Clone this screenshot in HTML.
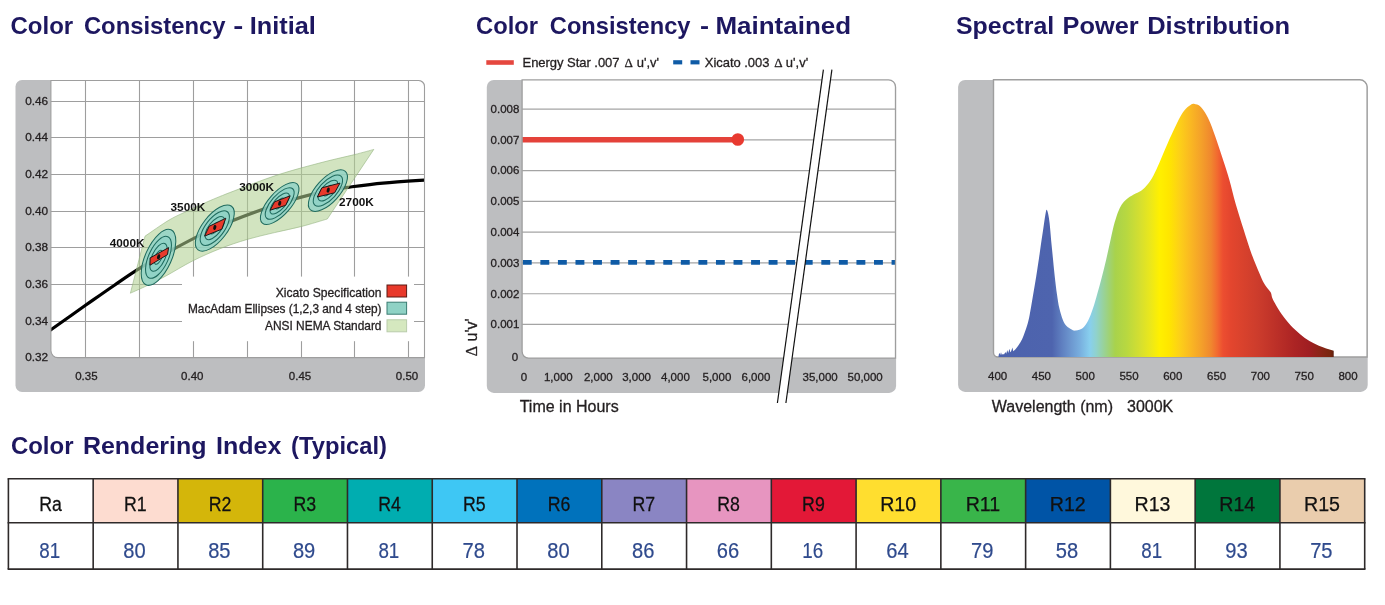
<!DOCTYPE html>
<html><head><meta charset="utf-8"><title>Color data</title>
<style>html,body{margin:0;padding:0;background:#fff;}body{width:1385px;height:605px;overflow:hidden;font-family:"Liberation Sans",sans-serif;}svg{display:block;}text{font-family:"Liberation Sans",sans-serif;}</style>
</head><body>
<svg width="1385" height="605" viewBox="0 0 1385 605" style="will-change:transform">
<rect width="1385" height="605" fill="#fff"/>
<text x="10.52" y="33.8" font-size="24" font-weight="bold" fill="#1d1760" textLength="62.7" lengthAdjust="spacingAndGlyphs">Color</text>
<text x="83.9" y="33.8" font-size="24" font-weight="bold" fill="#1d1760" textLength="141.71" lengthAdjust="spacingAndGlyphs">Consistency</text>
<text x="233.37" y="33.8" font-size="24" font-weight="bold" fill="#1d1760" textLength="10.06" lengthAdjust="spacingAndGlyphs">-</text>
<text x="249.81" y="33.8" font-size="24" font-weight="bold" fill="#1d1760" textLength="66.0" lengthAdjust="spacingAndGlyphs">Initial</text>
<text x="476.0" y="34" font-size="24" font-weight="bold" fill="#1d1760" textLength="62.0" lengthAdjust="spacingAndGlyphs">Color</text>
<text x="549.81" y="34" font-size="24" font-weight="bold" fill="#1d1760" textLength="140.71" lengthAdjust="spacingAndGlyphs">Consistency</text>
<text x="700.08" y="34" font-size="24" font-weight="bold" fill="#1d1760" textLength="9.05" lengthAdjust="spacingAndGlyphs">-</text>
<text x="715.4" y="34" font-size="24" font-weight="bold" fill="#1d1760" textLength="135.68" lengthAdjust="spacingAndGlyphs">Maintained</text>
<text x="956.01" y="34" font-size="24" font-weight="bold" fill="#1d1760" textLength="98.27" lengthAdjust="spacingAndGlyphs">Spectral</text>
<text x="1062.62" y="34" font-size="24" font-weight="bold" fill="#1d1760" textLength="76.09" lengthAdjust="spacingAndGlyphs">Power</text>
<text x="1147.19" y="34" font-size="24" font-weight="bold" fill="#1d1760" textLength="142.92" lengthAdjust="spacingAndGlyphs">Distribution</text>
<text x="10.91" y="454" font-size="24" font-weight="bold" fill="#1d1760" textLength="62.62" lengthAdjust="spacingAndGlyphs">Color</text>
<text x="82.91" y="454" font-size="24" font-weight="bold" fill="#1d1760" textLength="123.59" lengthAdjust="spacingAndGlyphs">Rendering</text>
<text x="215.93" y="454" font-size="24" font-weight="bold" fill="#1d1760" textLength="65.47" lengthAdjust="spacingAndGlyphs">Index</text>
<text x="291.11" y="454" font-size="24" font-weight="bold" fill="#1d1760" textLength="95.78" lengthAdjust="spacingAndGlyphs">(Typical)</text>
<rect x="15.5" y="80.0" width="409.50" height="311.90" rx="6.5" ry="6.5" fill="#bdbec0"/>
<path d="M50.9,80.5 L418.50,80.5 A6,6 0 0 1 424.5,86.50 L424.5,357.6 L57.9,357.6 A7,7 0 0 1 50.9,350.6 Z" fill="#fff"/>
<clipPath id="c1"><path d="M50.9,80.5 L418.50,80.5 A6,6 0 0 1 424.5,86.50 L424.5,357.6 L57.9,357.6 A7,7 0 0 1 50.9,350.6 Z"/></clipPath>
<g clip-path="url(#c1)">
<line x1="85.5" y1="80" x2="85.5" y2="358" stroke="#9e9e9e" stroke-width="1.1"/>
<line x1="139.5" y1="80" x2="139.5" y2="358" stroke="#9e9e9e" stroke-width="1.1"/>
<line x1="193.5" y1="80" x2="193.5" y2="358" stroke="#9e9e9e" stroke-width="1.1"/>
<line x1="247.5" y1="80" x2="247.5" y2="358" stroke="#9e9e9e" stroke-width="1.1"/>
<line x1="301.5" y1="80" x2="301.5" y2="358" stroke="#9e9e9e" stroke-width="1.1"/>
<line x1="354.5" y1="80" x2="354.5" y2="358" stroke="#9e9e9e" stroke-width="1.1"/>
<line x1="408.5" y1="80" x2="408.5" y2="358" stroke="#9e9e9e" stroke-width="1.1"/>
<line x1="50" y1="101.5" x2="426" y2="101.5" stroke="#9e9e9e" stroke-width="1.1"/>
<line x1="50" y1="137.5" x2="426" y2="137.5" stroke="#9e9e9e" stroke-width="1.1"/>
<line x1="50" y1="174.5" x2="426" y2="174.5" stroke="#9e9e9e" stroke-width="1.1"/>
<line x1="50" y1="211.5" x2="426" y2="211.5" stroke="#9e9e9e" stroke-width="1.1"/>
<line x1="50" y1="247.5" x2="426" y2="247.5" stroke="#9e9e9e" stroke-width="1.1"/>
<line x1="50" y1="284.5" x2="426" y2="284.5" stroke="#9e9e9e" stroke-width="1.1"/>
<line x1="50" y1="321.5" x2="426" y2="321.5" stroke="#9e9e9e" stroke-width="1.1"/>
<path d="M48.0,331.9C48.5,331.5 44.6,334.2 50.9,329.8C57.1,325.4 74.9,312.7 85.5,305.3C96.1,297.9 105.7,291.1 114.4,285.2C123.1,279.3 130.2,274.3 137.5,269.7C144.8,265.1 145.6,264.2 158.5,257.3C171.4,250.4 194.6,237.1 214.8,228.1C235.0,219.1 260.9,209.8 279.7,203.5C298.5,197.2 316.6,193.3 327.9,190.6C339.1,187.9 338.0,188.7 347.2,187.4C356.4,186.2 370.0,184.3 382.9,183.1C395.8,181.9 417.0,180.6 424.5,180.1C432.0,179.6 427.4,179.9 428.0,179.9" fill="none" stroke="#000" stroke-width="3.2"/>
<path d="M145.0,236.2C149.2,233.4 162.6,223.8 170.0,219.5C177.4,215.2 183.0,213.2 189.3,210.2C195.6,207.2 200.6,204.7 208.0,201.5C215.4,198.3 222.1,195.5 233.9,191.0C245.7,186.5 263.7,179.4 278.6,174.6C293.5,169.8 310.6,165.4 323.2,162.1C335.8,158.8 346.1,156.7 354.5,154.6C362.9,152.5 370.6,150.3 373.8,149.4L327.3,219.0C323.1,220.2 310.6,224.1 301.8,226.4C293.0,228.7 283.6,230.4 274.5,232.6C265.4,234.8 256.4,236.7 247.3,239.4C238.2,242.1 229.1,245.1 220.0,248.7C210.9,252.3 201.8,256.3 192.7,260.9C183.6,265.5 173.1,272.1 165.5,276.2C157.9,280.3 153.2,282.7 147.3,285.5C141.5,288.3 133.2,291.9 130.4,293.2Z" fill="#b0d090" fill-opacity="0.57" stroke="#8fb07c" stroke-opacity="0.7" stroke-width="0.8"/>
<ellipse cx="158.5" cy="257.3" rx="30.20" ry="13.10" transform="rotate(-65.5 158.5 257.3)" fill="#8fd2c5" fill-opacity="0.8" stroke="#1f6b5e" stroke-width="1.05"/>
<ellipse cx="158.5" cy="257.3" rx="22.65" ry="9.82" transform="rotate(-65.5 158.5 257.3)" fill="#8fd2c5" fill-opacity="0.8" stroke="#1f6b5e" stroke-width="1.05"/>
<ellipse cx="158.5" cy="257.3" rx="15.10" ry="6.55" transform="rotate(-65.5 158.5 257.3)" fill="#8fd2c5" fill-opacity="0.8" stroke="#1f6b5e" stroke-width="1.05"/>
<ellipse cx="158.5" cy="257.3" rx="7.55" ry="3.27" transform="rotate(-65.5 158.5 257.3)" fill="#8fd2c5" fill-opacity="0.8" stroke="#1f6b5e" stroke-width="1.05"/>
<polygon points="150.0,265.2 150.1,257.9 168.6,247.6 167.5,254.6" fill="#e8392b" stroke="#1a1a1a" stroke-width="1"/>
<ellipse cx="158.6" cy="256.8" rx="1.5" ry="2.6" transform="rotate(15 158.6 256.8)" fill="#111"/>
<ellipse cx="214.8" cy="228.1" rx="27.50" ry="12.50" transform="rotate(-52.5 214.8 228.1)" fill="#8fd2c5" fill-opacity="0.8" stroke="#1f6b5e" stroke-width="1.05"/>
<ellipse cx="214.8" cy="228.1" rx="20.62" ry="9.38" transform="rotate(-52.5 214.8 228.1)" fill="#8fd2c5" fill-opacity="0.8" stroke="#1f6b5e" stroke-width="1.05"/>
<ellipse cx="214.8" cy="228.1" rx="13.75" ry="6.25" transform="rotate(-52.5 214.8 228.1)" fill="#8fd2c5" fill-opacity="0.8" stroke="#1f6b5e" stroke-width="1.05"/>
<ellipse cx="214.8" cy="228.1" rx="6.88" ry="3.12" transform="rotate(-52.5 214.8 228.1)" fill="#8fd2c5" fill-opacity="0.8" stroke="#1f6b5e" stroke-width="1.05"/>
<polygon points="204.6,236.1 209.2,226.3 225.8,218.2 221.8,229.2" fill="#e8392b" stroke="#1a1a1a" stroke-width="1"/>
<ellipse cx="214.8" cy="227.4" rx="1.5" ry="2.6" transform="rotate(15 214.8 227.4)" fill="#111"/>
<ellipse cx="279.7" cy="203.5" rx="26.20" ry="11.20" transform="rotate(-48.6 279.7 203.5)" fill="#8fd2c5" fill-opacity="0.8" stroke="#1f6b5e" stroke-width="1.05"/>
<ellipse cx="279.7" cy="203.5" rx="19.65" ry="8.40" transform="rotate(-48.6 279.7 203.5)" fill="#8fd2c5" fill-opacity="0.8" stroke="#1f6b5e" stroke-width="1.05"/>
<ellipse cx="279.7" cy="203.5" rx="13.10" ry="5.60" transform="rotate(-48.6 279.7 203.5)" fill="#8fd2c5" fill-opacity="0.8" stroke="#1f6b5e" stroke-width="1.05"/>
<ellipse cx="279.7" cy="203.5" rx="6.55" ry="2.80" transform="rotate(-48.6 279.7 203.5)" fill="#8fd2c5" fill-opacity="0.8" stroke="#1f6b5e" stroke-width="1.05"/>
<polygon points="270.1,210.2 274.6,201.8 290.2,195.8 285.6,205.4" fill="#e8392b" stroke="#1a1a1a" stroke-width="1"/>
<ellipse cx="279.7" cy="203.3" rx="1.5" ry="2.6" transform="rotate(15 279.7 203.3)" fill="#111"/>
<ellipse cx="327.9" cy="190.6" rx="26.00" ry="11.80" transform="rotate(-47.8 327.9 190.6)" fill="#8fd2c5" fill-opacity="0.8" stroke="#1f6b5e" stroke-width="1.05"/>
<ellipse cx="327.9" cy="190.6" rx="19.50" ry="8.85" transform="rotate(-47.8 327.9 190.6)" fill="#8fd2c5" fill-opacity="0.8" stroke="#1f6b5e" stroke-width="1.05"/>
<ellipse cx="327.9" cy="190.6" rx="13.00" ry="5.90" transform="rotate(-47.8 327.9 190.6)" fill="#8fd2c5" fill-opacity="0.8" stroke="#1f6b5e" stroke-width="1.05"/>
<ellipse cx="327.9" cy="190.6" rx="6.50" ry="2.95" transform="rotate(-47.8 327.9 190.6)" fill="#8fd2c5" fill-opacity="0.8" stroke="#1f6b5e" stroke-width="1.05"/>
<polygon points="317.3,197.0 321.9,187.8 340.0,183.1 334.6,192.8" fill="#e8392b" stroke="#1a1a1a" stroke-width="1"/>
<ellipse cx="328.2" cy="190.1" rx="1.5" ry="2.6" transform="rotate(15 328.2 190.1)" fill="#111"/>
<rect x="182" y="276.6" width="232" height="64.6" fill="#fff"/>
</g>
<path d="M50.9,80.5 L418.50,80.5 A6,6 0 0 1 424.5,86.50 L424.5,357.6 L57.9,357.6 A7,7 0 0 1 50.9,350.6 Z" fill="none" stroke="#9e9e9e" stroke-width="1.1"/>
<text x="109.7" y="247.1" font-size="11.3" font-weight="bold" fill="#111" textLength="34.8" lengthAdjust="spacingAndGlyphs">4000K</text>
<text x="170.5" y="210.9" font-size="11.3" font-weight="bold" fill="#111" textLength="34.8" lengthAdjust="spacingAndGlyphs">3500K</text>
<text x="239.3" y="190.8" font-size="11.3" font-weight="bold" fill="#111" textLength="34.8" lengthAdjust="spacingAndGlyphs">3000K</text>
<text x="339" y="205.6" font-size="11.3" font-weight="bold" fill="#111" textLength="34.8" lengthAdjust="spacingAndGlyphs">2700K</text>
<text x="275.7" y="296.7" font-size="11.9" textLength="105.8" lengthAdjust="spacingAndGlyphs" fill="#231f20" stroke="#231f20" stroke-width="0.3">Xicato Specification</text>
<text x="188.0" y="312.8" font-size="11.9" textLength="193.5" lengthAdjust="spacingAndGlyphs" fill="#231f20" stroke="#231f20" stroke-width="0.3">MacAdam Ellipses (1,2,3 and 4 step)</text>
<text x="265.0" y="329.8" font-size="11.9" textLength="116.5" lengthAdjust="spacingAndGlyphs" fill="#231f20" stroke="#231f20" stroke-width="0.3">ANSI NEMA Standard</text>
<rect x="387" y="285" width="19.6" height="12" fill="#e8392b" stroke="#5a1a14" stroke-width="1"/>
<rect x="387" y="302.2" width="19.6" height="12" fill="#8fd2c5" stroke="#3a7d73" stroke-width="1"/>
<rect x="387" y="319.8" width="19.6" height="12" fill="#d5e8bf" stroke="#b9ccab" stroke-width="1"/>
<text x="48.1" y="104.6" font-size="11.8" text-anchor="end" fill="#231f20" stroke="#231f20" stroke-width="0.3">0.46</text>
<text x="48.1" y="140.6" font-size="11.8" text-anchor="end" fill="#231f20" stroke="#231f20" stroke-width="0.3">0.44</text>
<text x="48.1" y="177.6" font-size="11.8" text-anchor="end" fill="#231f20" stroke="#231f20" stroke-width="0.3">0.42</text>
<text x="48.1" y="214.6" font-size="11.8" text-anchor="end" fill="#231f20" stroke="#231f20" stroke-width="0.3">0.40</text>
<text x="48.1" y="250.6" font-size="11.8" text-anchor="end" fill="#231f20" stroke="#231f20" stroke-width="0.3">0.38</text>
<text x="48.1" y="287.6" font-size="11.8" text-anchor="end" fill="#231f20" stroke="#231f20" stroke-width="0.3">0.36</text>
<text x="48.1" y="324.6" font-size="11.8" text-anchor="end" fill="#231f20" stroke="#231f20" stroke-width="0.3">0.34</text>
<text x="48.1" y="360.9" font-size="11.8" text-anchor="end" fill="#231f20" stroke="#231f20" stroke-width="0.3">0.32</text>
<text x="86.4" y="380" font-size="11.5" text-anchor="middle" fill="#231f20" stroke="#231f20" stroke-width="0.3">0.35</text>
<text x="192.3" y="380" font-size="11.5" text-anchor="middle" fill="#231f20" stroke="#231f20" stroke-width="0.3">0.40</text>
<text x="300" y="380" font-size="11.5" text-anchor="middle" fill="#231f20" stroke="#231f20" stroke-width="0.3">0.45</text>
<text x="407" y="380" font-size="11.5" text-anchor="middle" fill="#231f20" stroke="#231f20" stroke-width="0.3">0.50</text>
<rect x="486.8" y="79.9" width="409.30" height="313.00" rx="7" ry="7" fill="#bdbec0"/>
<path d="M522.1,79.8 L888.50,79.8 A7,7 0 0 1 895.5,86.80 L895.5,358.1 L528.6,358.1 A6.5,6.5 0 0 1 522.1,351.6 Z" fill="#fff"/>
<clipPath id="c2"><path d="M522.1,79.8 L888.50,79.8 A7,7 0 0 1 895.5,86.80 L895.5,358.1 L528.6,358.1 A6.5,6.5 0 0 1 522.1,351.6 Z"/></clipPath>
<g clip-path="url(#c2)">
<line x1="522" y1="324.4" x2="897" y2="324.4" stroke="#a4a4a4" stroke-width="1.1"/>
<line x1="522" y1="293.7" x2="897" y2="293.7" stroke="#a4a4a4" stroke-width="1.1"/>
<line x1="522" y1="262.9" x2="897" y2="262.9" stroke="#a4a4a4" stroke-width="1.1"/>
<line x1="522" y1="232.1" x2="897" y2="232.1" stroke="#a4a4a4" stroke-width="1.1"/>
<line x1="522" y1="201.4" x2="897" y2="201.4" stroke="#a4a4a4" stroke-width="1.1"/>
<line x1="522" y1="170.6" x2="897" y2="170.6" stroke="#a4a4a4" stroke-width="1.1"/>
<line x1="522" y1="139.9" x2="897" y2="139.9" stroke="#a4a4a4" stroke-width="1.1"/>
<line x1="522" y1="109.1" x2="897" y2="109.1" stroke="#a4a4a4" stroke-width="1.1"/>
<line x1="522.8" y1="262.4" x2="897" y2="262.4" stroke="#0f5ba6" stroke-width="4.7" stroke-dasharray="8.9 8.66"/>
<line x1="522" y1="139.8" x2="737.7" y2="139.8" stroke="#e4423a" stroke-width="5.4"/>
<circle cx="737.8" cy="139.5" r="6.3" fill="#e83a30"/>
</g>
<path d="M522.1,79.8 L888.50,79.8 A7,7 0 0 1 895.5,86.80 L895.5,358.1 L528.6,358.1 A6.5,6.5 0 0 1 522.1,351.6 Z" fill="none" stroke="#9e9e9e" stroke-width="1.3"/>
<polygon points="823.4,69.6 831.9,69.6 785.9,403 777.4,403" fill="#fff"/>
<line x1="823.4" y1="69.6" x2="777.4" y2="403" stroke="#111" stroke-width="1.2"/>
<line x1="831.9" y1="69.6" x2="785.9" y2="403" stroke="#111" stroke-width="1.2"/>
<line x1="486.3" y1="62.5" x2="513.8" y2="62.5" stroke="#e5473f" stroke-width="4.6"/>
<rect x="673.2" y="60.2" width="9" height="4.2" fill="#0f5ba6"/><rect x="690.5" y="60.2" width="9" height="4.2" fill="#0f5ba6"/>
<text x="522.5" y="67.2" font-size="13" fill="#231f20" stroke="#231f20" stroke-width="0.3" textLength="97" lengthAdjust="spacing">Energy Star .007</text>
<text x="624.6" y="67.2" font-size="13" font-family="Liberation Serif, serif" style="font-family:'Liberation Serif',serif" fill="#231f20" stroke="#231f20" stroke-width="0.3">Δ</text>
<text x="636.7" y="67.2" font-size="13" fill="#231f20" stroke="#231f20" stroke-width="0.3" textLength="22.4" lengthAdjust="spacing">u',v'</text>
<text x="704.8" y="67.2" font-size="13" fill="#231f20" stroke="#231f20" stroke-width="0.3" textLength="64.6" lengthAdjust="spacing">Xicato .003</text>
<text x="774.2" y="67.2" font-size="13" style="font-family:'Liberation Serif',serif" fill="#231f20" stroke="#231f20" stroke-width="0.3">Δ</text>
<text x="785.8" y="67.2" font-size="13" fill="#231f20" stroke="#231f20" stroke-width="0.3" textLength="22.4" lengthAdjust="spacing">u',v'</text>
<text x="518.2" y="361.1" font-size="11.5" text-anchor="end" fill="#231f20" stroke="#231f20" stroke-width="0.3">0</text>
<text x="519.4" y="328.2" font-size="11.5" text-anchor="end" fill="#231f20" stroke="#231f20" stroke-width="0.3">0.001</text>
<text x="519.4" y="297.5" font-size="11.5" text-anchor="end" fill="#231f20" stroke="#231f20" stroke-width="0.3">0.002</text>
<text x="519.4" y="266.7" font-size="11.5" text-anchor="end" fill="#231f20" stroke="#231f20" stroke-width="0.3">0.003</text>
<text x="519.4" y="235.9" font-size="11.5" text-anchor="end" fill="#231f20" stroke="#231f20" stroke-width="0.3">0.004</text>
<text x="519.4" y="205.2" font-size="11.5" text-anchor="end" fill="#231f20" stroke="#231f20" stroke-width="0.3">0.005</text>
<text x="519.4" y="174.4" font-size="11.5" text-anchor="end" fill="#231f20" stroke="#231f20" stroke-width="0.3">0.006</text>
<text x="519.4" y="143.7" font-size="11.5" text-anchor="end" fill="#231f20" stroke="#231f20" stroke-width="0.3">0.007</text>
<text x="519.4" y="112.9" font-size="11.5" text-anchor="end" fill="#231f20" stroke="#231f20" stroke-width="0.3">0.008</text>
<text x="523.9" y="380.7" font-size="11.5" text-anchor="middle" fill="#231f20" stroke="#231f20" stroke-width="0.3">0</text>
<text x="558.3" y="380.7" font-size="11.5" text-anchor="middle" fill="#231f20" stroke="#231f20" stroke-width="0.3">1,000</text>
<text x="598.3" y="380.7" font-size="11.5" text-anchor="middle" fill="#231f20" stroke="#231f20" stroke-width="0.3">2,000</text>
<text x="636.6" y="380.7" font-size="11.5" text-anchor="middle" fill="#231f20" stroke="#231f20" stroke-width="0.3">3,000</text>
<text x="675.4" y="380.7" font-size="11.5" text-anchor="middle" fill="#231f20" stroke="#231f20" stroke-width="0.3">4,000</text>
<text x="716.9" y="380.7" font-size="11.5" text-anchor="middle" fill="#231f20" stroke="#231f20" stroke-width="0.3">5,000</text>
<text x="755.9" y="380.7" font-size="11.5" text-anchor="middle" fill="#231f20" stroke="#231f20" stroke-width="0.3">6,000</text>
<text x="820.1" y="380.7" font-size="11.5" text-anchor="middle" fill="#231f20" stroke="#231f20" stroke-width="0.3">35,000</text>
<text x="865.2" y="380.7" font-size="11.5" text-anchor="middle" fill="#231f20" stroke="#231f20" stroke-width="0.3">50,000</text>
<text x="519.7" y="412" font-size="16" fill="#231f20" stroke="#231f20" stroke-width="0.3">Time in Hours</text>
<text transform="translate(476.7 356.2) rotate(-90)" font-size="16" fill="#231f20" stroke="#231f20" stroke-width="0.3"><tspan style="font-family:'Liberation Serif',serif">Δ</tspan> u'v'</text>
<rect x="958.1" y="79.9" width="409.60" height="312.00" rx="7" ry="7" fill="#bdbec0"/>
<path d="M993.5,79.8 L1359.80,79.8 A7.3,7.3 0 0 1 1367.1,87.10 L1367.1,357.0 L998.0,357.0 A4.5,4.5 0 0 1 993.5,352.5 Z" fill="#fff"/>
<defs><linearGradient id="sp" gradientUnits="userSpaceOnUse" x1="998" y1="0" x2="1334" y2="0">
<stop offset="0.0000" stop-color="#4c62ad"/>
<stop offset="0.1607" stop-color="#4e64ae"/>
<stop offset="0.1896" stop-color="#5f7fc0"/>
<stop offset="0.2110" stop-color="#6a92cc"/>
<stop offset="0.2432" stop-color="#78aede"/>
<stop offset="0.2732" stop-color="#88cfee"/>
<stop offset="0.2926" stop-color="#90d2cc"/>
<stop offset="0.3185" stop-color="#9ad290"/>
<stop offset="0.3485" stop-color="#a8d24c"/>
<stop offset="0.3827" stop-color="#b8d840"/>
<stop offset="0.4226" stop-color="#d5df30"/>
<stop offset="0.4548" stop-color="#ece81a"/>
<stop offset="0.4807" stop-color="#fff000"/>
<stop offset="0.5086" stop-color="#ffe600"/>
<stop offset="0.5408" stop-color="#fdd018"/>
<stop offset="0.5729" stop-color="#fab822"/>
<stop offset="0.6054" stop-color="#f4a02a"/>
<stop offset="0.6333" stop-color="#f0882e"/>
<stop offset="0.6527" stop-color="#f26a30"/>
<stop offset="0.6696" stop-color="#ec4e30"/>
<stop offset="0.6914" stop-color="#e4462e"/>
<stop offset="0.7202" stop-color="#db432d"/>
<stop offset="0.7738" stop-color="#cc3c2c"/>
<stop offset="0.8277" stop-color="#bc3028"/>
<stop offset="0.8815" stop-color="#ac2424"/>
<stop offset="0.9244" stop-color="#a01e22"/>
<stop offset="0.9565" stop-color="#8c2418"/>
<stop offset="0.9890" stop-color="#78260e"/>
<stop offset="0.9958" stop-color="#6a220e"/>
<stop offset="1.0000" stop-color="#4a1a10"/>
</linearGradient></defs>
<path d="M993.5,79.8 L1359.80,79.8 A7.3,7.3 0 0 1 1367.1,87.10 L1367.1,357.0 L998.0,357.0 A4.5,4.5 0 0 1 993.5,352.5 Z" fill="none" stroke="#9e9e9e" stroke-width="1.4"/>
<clipPath id="c3"><path d="M993.5,79.8 L1359.80,79.8 A7.3,7.3 0 0 1 1367.1,87.10 L1367.1,357.0 L998.0,357.0 A4.5,4.5 0 0 1 993.5,352.5 Z"/></clipPath>
<g clip-path="url(#c3)"><path d="M998.4,357.4 L998.4,357 L998.8,354.5 L999.5,352.7 L1000.2,355 L1001,352.2 L1001.8,354.8 L1003,354 L1004,354.5 L1005.4,352 L1006.2,353.8 L1007.3,349.9 L1008.2,353 L1009.5,348.8 L1010.3,352.3 L1011,351.5 L1012.5,347.6 L1013.2,351.2 L1014.7,350.1 L1014.7,350.1C1015.3,349.3 1017.2,347.2 1018.5,345.3C1019.8,343.4 1021.2,341.2 1022.2,339.0C1023.2,336.8 1023.9,334.6 1024.8,332.2C1025.7,329.8 1026.6,327.2 1027.4,324.5C1028.2,321.8 1028.6,320.2 1029.5,315.7C1030.4,311.1 1031.6,303.8 1032.7,297.2C1033.8,290.6 1035.0,283.7 1036.2,276.4C1037.4,269.1 1038.6,260.9 1039.7,253.2C1040.8,245.5 1042.1,236.5 1043.1,230.1C1044.0,223.7 1044.8,217.9 1045.4,214.5C1046.0,211.1 1046.2,209.9 1046.6,209.7C1047.0,209.5 1047.5,211.0 1048.0,213.2C1048.5,215.4 1049.1,218.5 1049.6,223.1C1050.1,227.7 1050.7,235.2 1051.2,241.0C1051.8,246.8 1052.3,252.1 1052.9,257.9C1053.5,263.7 1054.0,269.9 1054.7,276.0C1055.4,282.1 1056.2,289.1 1057.0,294.4C1057.8,299.7 1058.3,303.8 1059.3,308.0C1060.3,312.2 1061.6,316.8 1062.8,319.8C1064.0,322.8 1064.8,324.1 1066.3,325.8C1067.8,327.5 1070.5,329.0 1072.1,329.8C1073.7,330.6 1074.2,330.9 1076.0,330.6C1077.8,330.3 1080.9,329.7 1082.9,328.0C1084.9,326.3 1086.5,323.7 1088.2,320.5C1089.9,317.3 1091.4,313.1 1092.9,308.6C1094.4,304.1 1095.8,298.9 1097.3,293.7C1098.8,288.5 1100.3,283.0 1101.8,277.3C1103.3,271.6 1104.8,265.5 1106.2,259.4C1107.6,253.3 1109.0,246.6 1110.4,240.5C1111.8,234.4 1113.2,227.6 1114.6,222.6C1116.0,217.6 1117.3,213.6 1118.7,210.4C1120.1,207.2 1121.1,205.3 1122.7,203.2C1124.3,201.1 1125.9,199.6 1128.1,198.0C1130.2,196.4 1133.1,195.1 1135.6,193.6C1138.1,192.1 1140.5,191.4 1143.0,189.2C1145.5,187.0 1148.3,183.8 1150.5,180.5C1152.7,177.2 1154.6,173.2 1156.4,169.5C1158.2,165.8 1159.2,163.0 1161.4,158.0C1163.6,153.0 1166.7,145.5 1169.3,139.6C1171.9,133.7 1174.9,127.2 1177.3,122.4C1179.7,117.6 1181.7,113.9 1183.9,111.0C1186.1,108.1 1188.7,106.3 1190.5,105.1C1192.3,103.9 1193.0,103.8 1194.5,103.9C1196.0,104.0 1198.0,104.5 1199.8,105.9C1201.5,107.3 1203.2,109.6 1205.0,112.5C1206.8,115.4 1208.3,118.2 1210.3,123.1C1212.3,127.9 1214.8,135.2 1217.0,141.6C1219.2,148.0 1221.5,155.2 1223.6,161.6C1225.7,168.0 1227.4,172.9 1229.4,180.0C1231.4,187.1 1233.3,195.7 1235.7,204.0C1238.1,212.3 1241.0,221.4 1243.6,229.6C1246.2,237.8 1248.8,246.2 1251.4,253.4C1254.0,260.6 1257.2,268.0 1259.3,273.0C1261.4,278.0 1262.4,280.4 1264.0,283.2C1265.6,286.0 1267.5,288.2 1268.7,289.8C1269.9,291.4 1270.3,291.5 1271.0,293.0C1271.7,294.5 1271.4,296.2 1272.6,298.8C1273.8,301.4 1275.9,305.2 1278.1,308.7C1280.3,312.2 1283.0,316.1 1285.9,319.7C1288.8,323.3 1292.2,327.1 1295.4,330.1C1298.6,333.2 1301.7,335.8 1304.8,338.0C1307.9,340.2 1311.1,342.0 1314.2,343.6C1317.3,345.2 1320.5,346.4 1323.6,347.6C1326.7,348.8 1331.3,350.1 1333.0,350.6C1334.7,351.1 1333.6,350.8 1333.7,350.8 L1333.7,357.4 Z" fill="url(#sp)"/></g>
<text x="997.6" y="380.4" font-size="11.5" text-anchor="middle" fill="#231f20" stroke="#231f20" stroke-width="0.3">400</text>
<text x="1041.4" y="380.4" font-size="11.5" text-anchor="middle" fill="#231f20" stroke="#231f20" stroke-width="0.3">450</text>
<text x="1085.2" y="380.4" font-size="11.5" text-anchor="middle" fill="#231f20" stroke="#231f20" stroke-width="0.3">500</text>
<text x="1129.0" y="380.4" font-size="11.5" text-anchor="middle" fill="#231f20" stroke="#231f20" stroke-width="0.3">550</text>
<text x="1172.8" y="380.4" font-size="11.5" text-anchor="middle" fill="#231f20" stroke="#231f20" stroke-width="0.3">600</text>
<text x="1216.6" y="380.4" font-size="11.5" text-anchor="middle" fill="#231f20" stroke="#231f20" stroke-width="0.3">650</text>
<text x="1260.4" y="380.4" font-size="11.5" text-anchor="middle" fill="#231f20" stroke="#231f20" stroke-width="0.3">700</text>
<text x="1304.2" y="380.4" font-size="11.5" text-anchor="middle" fill="#231f20" stroke="#231f20" stroke-width="0.3">750</text>
<text x="1348.0" y="380.4" font-size="11.5" text-anchor="middle" fill="#231f20" stroke="#231f20" stroke-width="0.3">800</text>
<text x="991.8" y="411.7" font-size="16" fill="#231f20" stroke="#231f20" stroke-width="0.3">Wavelength (nm)</text>
<text x="1127" y="411.7" font-size="16" fill="#231f20" stroke="#231f20" stroke-width="0.3">3000K</text>
<rect x="8.40" y="478.7" width="84.77" height="44.1" fill="#ffffff"/>
<text transform="translate(50.48 510.6) scale(0.905 1)" font-size="19.6" text-anchor="middle" fill="#111" stroke="#111" stroke-width="0.25">Ra</text>
<text transform="translate(49.78 558.0) scale(0.885 1)" font-size="21.2" text-anchor="middle" fill="#2f4a8d" stroke="#2f4a8d" stroke-width="0.2">81</text>
<rect x="93.17" y="478.7" width="84.77" height="44.1" fill="#fddcd0"/>
<text transform="translate(135.25 510.6) scale(0.905 1)" font-size="19.6" text-anchor="middle" fill="#111" stroke="#111" stroke-width="0.25">R1</text>
<text transform="translate(134.55 558.0) scale(0.95 1)" font-size="21.2" text-anchor="middle" fill="#2f4a8d" stroke="#2f4a8d" stroke-width="0.2">80</text>
<rect x="177.94" y="478.7" width="84.77" height="44.1" fill="#d4b60a"/>
<text transform="translate(220.02 510.6) scale(0.905 1)" font-size="19.6" text-anchor="middle" fill="#111" stroke="#111" stroke-width="0.25">R2</text>
<text transform="translate(219.32 558.0) scale(0.95 1)" font-size="21.2" text-anchor="middle" fill="#2f4a8d" stroke="#2f4a8d" stroke-width="0.2">85</text>
<rect x="262.71" y="478.7" width="84.77" height="44.1" fill="#2bb34b"/>
<text transform="translate(304.79 510.6) scale(0.905 1)" font-size="19.6" text-anchor="middle" fill="#111" stroke="#111" stroke-width="0.25">R3</text>
<text transform="translate(304.09 558.0) scale(0.95 1)" font-size="21.2" text-anchor="middle" fill="#2f4a8d" stroke="#2f4a8d" stroke-width="0.2">89</text>
<rect x="347.47" y="478.7" width="84.77" height="44.1" fill="#00adb0"/>
<text transform="translate(389.56 510.6) scale(0.905 1)" font-size="19.6" text-anchor="middle" fill="#111" stroke="#111" stroke-width="0.25">R4</text>
<text transform="translate(388.86 558.0) scale(0.885 1)" font-size="21.2" text-anchor="middle" fill="#2f4a8d" stroke="#2f4a8d" stroke-width="0.2">81</text>
<rect x="432.24" y="478.7" width="84.77" height="44.1" fill="#3ec7f4"/>
<text transform="translate(474.33 510.6) scale(0.905 1)" font-size="19.6" text-anchor="middle" fill="#111" stroke="#111" stroke-width="0.25">R5</text>
<text transform="translate(473.63 558.0) scale(0.95 1)" font-size="21.2" text-anchor="middle" fill="#2f4a8d" stroke="#2f4a8d" stroke-width="0.2">78</text>
<rect x="517.01" y="478.7" width="84.77" height="44.1" fill="#0072bc"/>
<text transform="translate(559.10 510.6) scale(0.905 1)" font-size="19.6" text-anchor="middle" fill="#111" stroke="#111" stroke-width="0.25">R6</text>
<text transform="translate(558.40 558.0) scale(0.95 1)" font-size="21.2" text-anchor="middle" fill="#2f4a8d" stroke="#2f4a8d" stroke-width="0.2">80</text>
<rect x="601.78" y="478.7" width="84.77" height="44.1" fill="#8a85c3"/>
<text transform="translate(643.87 510.6) scale(0.905 1)" font-size="19.6" text-anchor="middle" fill="#111" stroke="#111" stroke-width="0.25">R7</text>
<text transform="translate(643.17 558.0) scale(0.95 1)" font-size="21.2" text-anchor="middle" fill="#2f4a8d" stroke="#2f4a8d" stroke-width="0.2">86</text>
<rect x="686.55" y="478.7" width="84.77" height="44.1" fill="#e795c0"/>
<text transform="translate(728.63 510.6) scale(0.905 1)" font-size="19.6" text-anchor="middle" fill="#111" stroke="#111" stroke-width="0.25">R8</text>
<text transform="translate(727.93 558.0) scale(0.95 1)" font-size="21.2" text-anchor="middle" fill="#2f4a8d" stroke="#2f4a8d" stroke-width="0.2">66</text>
<rect x="771.32" y="478.7" width="84.77" height="44.1" fill="#e31837"/>
<text transform="translate(813.40 510.6) scale(0.905 1)" font-size="19.6" text-anchor="middle" fill="#111" stroke="#111" stroke-width="0.25">R9</text>
<text transform="translate(812.70 558.0) scale(0.885 1)" font-size="21.2" text-anchor="middle" fill="#2f4a8d" stroke="#2f4a8d" stroke-width="0.2">16</text>
<rect x="856.09" y="478.7" width="84.77" height="44.1" fill="#ffde2f"/>
<text transform="translate(898.17 510.6) scale(1.0 1)" font-size="19.6" text-anchor="middle" fill="#111" stroke="#111" stroke-width="0.25">R10</text>
<text transform="translate(897.47 558.0) scale(0.95 1)" font-size="21.2" text-anchor="middle" fill="#2f4a8d" stroke="#2f4a8d" stroke-width="0.2">64</text>
<rect x="940.86" y="478.7" width="84.77" height="44.1" fill="#39b54a"/>
<text transform="translate(982.94 510.6) scale(1.0 1)" font-size="19.6" text-anchor="middle" fill="#111" stroke="#111" stroke-width="0.25">R11</text>
<text transform="translate(982.24 558.0) scale(0.95 1)" font-size="21.2" text-anchor="middle" fill="#2f4a8d" stroke="#2f4a8d" stroke-width="0.2">79</text>
<rect x="1025.62" y="478.7" width="84.77" height="44.1" fill="#0054a6"/>
<text transform="translate(1067.71 510.6) scale(1.0 1)" font-size="19.6" text-anchor="middle" fill="#111" stroke="#111" stroke-width="0.25">R12</text>
<text transform="translate(1067.01 558.0) scale(0.95 1)" font-size="21.2" text-anchor="middle" fill="#2f4a8d" stroke="#2f4a8d" stroke-width="0.2">58</text>
<rect x="1110.39" y="478.7" width="84.77" height="44.1" fill="#fff8dc"/>
<text transform="translate(1152.48 510.6) scale(1.0 1)" font-size="19.6" text-anchor="middle" fill="#111" stroke="#111" stroke-width="0.25">R13</text>
<text transform="translate(1151.78 558.0) scale(0.885 1)" font-size="21.2" text-anchor="middle" fill="#2f4a8d" stroke="#2f4a8d" stroke-width="0.2">81</text>
<rect x="1195.16" y="478.7" width="84.77" height="44.1" fill="#00763c"/>
<text transform="translate(1237.25 510.6) scale(1.0 1)" font-size="19.6" text-anchor="middle" fill="#111" stroke="#111" stroke-width="0.25">R14</text>
<text transform="translate(1236.55 558.0) scale(0.95 1)" font-size="21.2" text-anchor="middle" fill="#2f4a8d" stroke="#2f4a8d" stroke-width="0.2">93</text>
<rect x="1279.93" y="478.7" width="84.77" height="44.1" fill="#eacdad"/>
<text transform="translate(1322.02 510.6) scale(1.0 1)" font-size="19.6" text-anchor="middle" fill="#111" stroke="#111" stroke-width="0.25">R15</text>
<text transform="translate(1321.32 558.0) scale(0.95 1)" font-size="21.2" text-anchor="middle" fill="#2f4a8d" stroke="#2f4a8d" stroke-width="0.2">75</text>
<line x1="8.40" y1="478.7" x2="8.40" y2="569.1" stroke="#2e2a2a" stroke-width="1.6"/>
<line x1="93.17" y1="478.7" x2="93.17" y2="569.1" stroke="#2e2a2a" stroke-width="1.6"/>
<line x1="177.94" y1="478.7" x2="177.94" y2="569.1" stroke="#2e2a2a" stroke-width="1.6"/>
<line x1="262.71" y1="478.7" x2="262.71" y2="569.1" stroke="#2e2a2a" stroke-width="1.6"/>
<line x1="347.47" y1="478.7" x2="347.47" y2="569.1" stroke="#2e2a2a" stroke-width="1.6"/>
<line x1="432.24" y1="478.7" x2="432.24" y2="569.1" stroke="#2e2a2a" stroke-width="1.6"/>
<line x1="517.01" y1="478.7" x2="517.01" y2="569.1" stroke="#2e2a2a" stroke-width="1.6"/>
<line x1="601.78" y1="478.7" x2="601.78" y2="569.1" stroke="#2e2a2a" stroke-width="1.6"/>
<line x1="686.55" y1="478.7" x2="686.55" y2="569.1" stroke="#2e2a2a" stroke-width="1.6"/>
<line x1="771.32" y1="478.7" x2="771.32" y2="569.1" stroke="#2e2a2a" stroke-width="1.6"/>
<line x1="856.09" y1="478.7" x2="856.09" y2="569.1" stroke="#2e2a2a" stroke-width="1.6"/>
<line x1="940.86" y1="478.7" x2="940.86" y2="569.1" stroke="#2e2a2a" stroke-width="1.6"/>
<line x1="1025.62" y1="478.7" x2="1025.62" y2="569.1" stroke="#2e2a2a" stroke-width="1.6"/>
<line x1="1110.39" y1="478.7" x2="1110.39" y2="569.1" stroke="#2e2a2a" stroke-width="1.6"/>
<line x1="1195.16" y1="478.7" x2="1195.16" y2="569.1" stroke="#2e2a2a" stroke-width="1.6"/>
<line x1="1279.93" y1="478.7" x2="1279.93" y2="569.1" stroke="#2e2a2a" stroke-width="1.6"/>
<line x1="1364.70" y1="478.7" x2="1364.70" y2="569.1" stroke="#2e2a2a" stroke-width="1.6"/>
<line x1="7.6000000000000005" y1="478.7" x2="1365.50" y2="478.7" stroke="#2e2a2a" stroke-width="1.6"/>
<line x1="7.6000000000000005" y1="522.8" x2="1365.50" y2="522.8" stroke="#2e2a2a" stroke-width="1.6"/>
<line x1="7.6000000000000005" y1="569.1" x2="1365.50" y2="569.1" stroke="#2e2a2a" stroke-width="1.6"/>
</svg></body></html>
